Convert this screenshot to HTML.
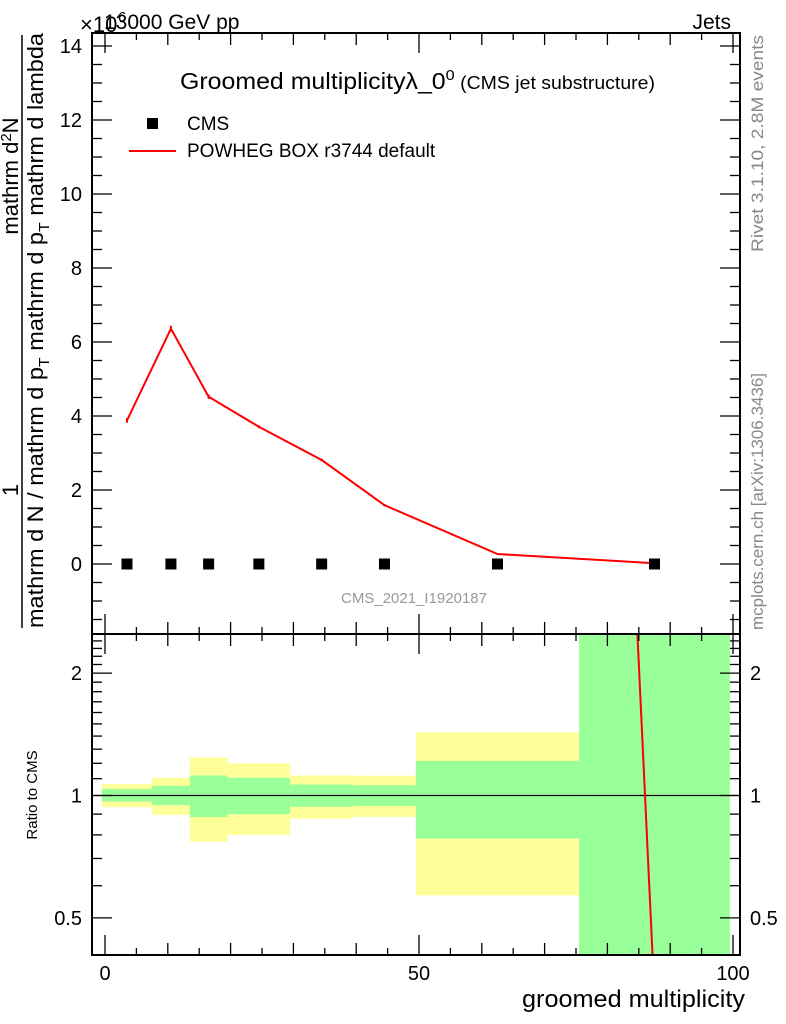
<!DOCTYPE html>
<html><head><meta charset="utf-8"><style>
html,body{margin:0;padding:0;background:#fff;}
svg{display:block;font-family:"Liberation Sans",Arial,sans-serif;}
</style></head><body>
<svg id="chart" width="786" height="1024" viewBox="0 0 786 1024" xmlns="http://www.w3.org/2000/svg">
<g id="bands"></g>
<g id="marks"></g>
<g id="axes"></g>
<text x="104" y="29" font-size="21">13000 GeV pp</text>
<text x="80" y="32" font-size="22">×10</text>
<text x="118" y="22" font-size="15">6</text>
<text x="731" y="29" font-size="21" text-anchor="end">Jets</text>
<text x="180" y="89" font-size="23" textLength="475" lengthAdjust="spacingAndGlyphs">Groomed multiplicityλ_0<tspan dy="-9" font-size="15">0</tspan><tspan dy="9" font-size="18"> (CMS jet substructure)</tspan></text>
<rect x="147" y="118" width="11" height="11" fill="#000"/>
<text x="187" y="130" font-size="19">CMS</text>
<line x1="129" y1="151" x2="176" y2="151" stroke="#f00" stroke-width="2"/>
<text x="187" y="157" font-size="19">POWHEG BOX r3744 default</text>
<text x="414" y="603" font-size="15" fill="#999" text-anchor="middle">CMS_2021_I1920187</text>
<text transform="translate(763,252) rotate(-90)" font-size="17" fill="#888" textLength="217" lengthAdjust="spacingAndGlyphs">Rivet 3.1.10,  2.8M events</text>
<text transform="translate(763,630) rotate(-90)" font-size="17" fill="#888">mcplots.cern.ch [arXiv:1306.3436]</text>
<g font-size="22">
<text transform="translate(18,490) rotate(-90)" text-anchor="middle">1</text>
<text transform="translate(18,176) rotate(-90)" text-anchor="middle">mathrm d<tspan dy="-7" font-size="15">2</tspan><tspan dy="7">N</tspan></text>
<line x1="22" y1="35" x2="22" y2="628" stroke="#000" stroke-width="1.5"/>
<text transform="translate(43,628) rotate(-90)" textLength="595" lengthAdjust="spacingAndGlyphs">mathrm d N / mathrm d p<tspan dy="6" font-size="15">T</tspan><tspan dy="-6"> mathrm d p</tspan><tspan dy="6" font-size="15">T</tspan><tspan dy="-6"> mathrm d lambda</tspan></text>
</g>
<text transform="translate(37,795) rotate(-90)" font-size="15" text-anchor="middle">Ratio to CMS</text>
<text x="745" y="1007" font-size="24" text-anchor="end" textLength="223" lengthAdjust="spacingAndGlyphs">groomed multiplicity</text>
</svg>
<script>
const binEdges=[-0.5,7.5,13.5,19.5,29.5,39.5,49.5,75.5,99.5];
const binCenters=[3.5,10.5,16.5,24.5,34.5,44.5,62.5,87.5];
const cmsValues=[0,0,0,0,0,0,0,0];
const mcValues=[3.88,6.36,4.52,3.71,2.81,1.59,0.27,0.02];
const mcErrors=[0.06,0.08,0.06,0.04,0.04,0.03,0.02,0.02];
const ratioValues=[1e8,1e8,1e8,1e8,1e8,1e8,5e7,0.32];
const yellowUp=[1.068,1.105,1.24,1.20,1.12,1.118,1.43,3];
const yellowDown=[0.936,0.896,0.77,0.80,0.877,0.886,0.568,0.3];
const greenUp=[1.037,1.056,1.12,1.105,1.064,1.06,1.217,3];
const greenDown=[0.967,0.947,0.885,0.90,0.938,0.943,0.784,0.3];
const mainYTicks=[0,2,4,6,8,10,12,14];
const xTickLabels=[0,50,100];
const ratioTickLabels=[0.5,1,2];

const NS='http://www.w3.org/2000/svg';
const L=92,R=740,T=33,MB=634,RB=955;
const X=v=>105+v*6.28;
const Y=v=>564-v*37;
const RY=v=>795.5-Math.log10(v)*406.6;
function mk(tag,attrs,parent){const e=document.createElementNS(NS,tag);for(const k in attrs)e.setAttribute(k,attrs[k]);parent.appendChild(e);return e;}
const bands=document.getElementById('bands'),marks=document.getElementById('marks'),axes=document.getElementById('axes');
const defs=mk('defs',{},document.getElementById('chart'));
const cp=mk('clipPath',{id:'rclip'},defs);mk('rect',{x:L,y:MB,width:R-L,height:RB-MB},cp);
const cp2=mk('clipPath',{id:'mclip'},defs);mk('rect',{x:L,y:T,width:R-L,height:MB-T},cp2);
bands.setAttribute('clip-path','url(#rclip)');
for(let i=0;i<binCenters.length;i++){
  const x0=X(binEdges[i]),x1=X(binEdges[i+1]);
  const y=mk('rect',{x:x0,y:RY(yellowUp[i]),width:x1-x0,height:RY(yellowDown[i])-RY(yellowUp[i]),fill:'#ffff99'},bands);
  
  
  const g=mk('rect',{x:x0,y:RY(greenUp[i]),width:x1-x0,height:RY(greenDown[i])-RY(greenUp[i]),fill:'#99ff99'},bands);
  
  
}
const one=mk('line',{x1:L,y1:RY(1),x2:R,y2:RY(1),stroke:'#000','stroke-width':1.2},marks);


let d='';mcValues.forEach((v,i)=>{d+=(i?'L':'M')+X(binCenters[i])+','+Y(v);});
const mcl=mk('path',{d:d,fill:'none',stroke:'#f00','stroke-width':2,'clip-path':'url(#mclip)'},marks);


mcValues.forEach((v,i)=>{
  const e=mk('line',{x1:X(binCenters[i]),x2:X(binCenters[i]),y1:Y(v+mcErrors[i]),y2:Y(v-mcErrors[i]),stroke:'#f00','stroke-width':2},marks);
  
  
});
cmsValues.forEach((v,i)=>{
  const p=mk('rect',{x:X(binCenters[i])-5.5,y:Y(v)-5.5,width:11,height:11,fill:'#000'},marks);
  
  
});
let rd='';ratioValues.forEach((v,i)=>{const yy=Math.max(-20000,Math.min(20000,RY(v)));rd+=(i?'L':'M')+X(binCenters[i])+','+yy;});
const rl=mk('path',{d:rd,fill:'none',stroke:'#f00','stroke-width':2,'clip-path':'url(#rclip)'},marks);


const f1=mk('rect',{x:L,y:T,width:R-L,height:MB-T,fill:'none',stroke:'#000','stroke-width':2},axes);


const f2=mk('rect',{x:L,y:MB,width:R-L,height:RB-MB,fill:'none',stroke:'#000','stroke-width':2},axes);


const tk=(x1,y1,x2,y2)=>mk('line',{x1,y1,x2,y2,stroke:'#000','stroke-width':1.3},axes);
for(let v=-1.5;v<=14.3;v+=0.5){const y=Y(v);const major=Math.abs(v%2)<1e-6;const len=major?20:10;tk(L,y,L+len,y);tk(R,y,R-len,y);}
mainYTicks.forEach(v=>{const t=mk('text',{x:L-10,y:Y(v)+7,'font-size':20,'text-anchor':'end'},axes);t.textContent=v;
  
  });
for(let v=0;v<=100;v+=5){const x=X(v);const len=v%50===0?20:(v%10===0?12:7);tk(x,MB,x,MB-len);tk(x,RB,x,RB-len);tk(x,T,x,T+len);tk(x,MB,x,MB+len);}
xTickLabels.forEach(v=>{const t=mk('text',{x:X(v),y:980,'font-size':20,'text-anchor':'middle'},axes);t.textContent=v;
  
  });
const rt=[];for(let v=0.5;v<=2.45;v+=0.1)rt.push(+v.toFixed(1));
rt.forEach(v=>{const y=RY(v);const major=[0.5,1,2].includes(v);const len=major?20:10;tk(L,y,L+len,y);tk(R,y,R-len,y);});
ratioTickLabels.forEach(v=>{
  const t=mk('text',{x:L-10,y:RY(v)+7,'font-size':20,'text-anchor':'end'},axes);t.textContent=v;
  
  
  const t2=mk('text',{x:R+10,y:RY(v)+7,'font-size':20},axes);t2.textContent=v;
  
  
});
</script>
</body></html>
